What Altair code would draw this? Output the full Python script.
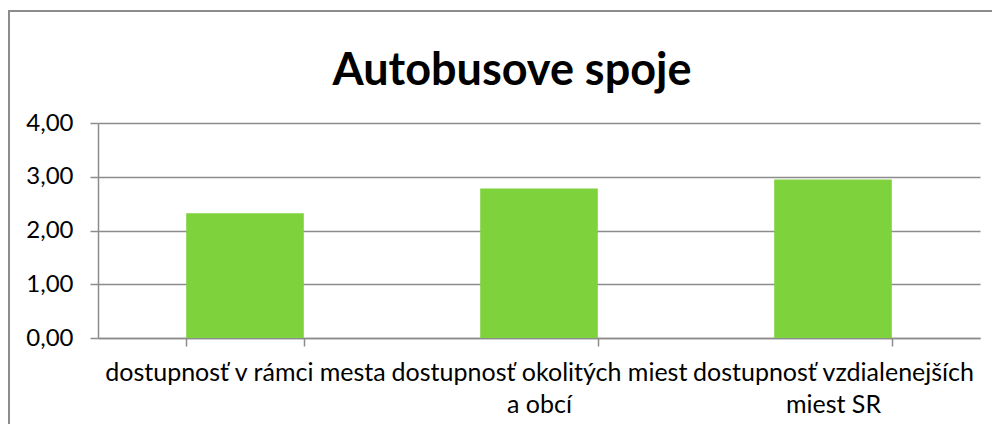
import altair as alt
import pandas as pd

chart_title = "Autobusove spoje"
categories = [
    "dostupnosť v rámci mesta",
    "dostupnosť okolitých miest|a obcí",
    "dostupnosť vzdialenejších|miest SR",
]
values = [2.32, 2.78, 2.95]
y_ticks = [0, 1, 2, 3, 4]

df = pd.DataFrame({"cat": categories, "val": values})

FONT = "Lato"
GRID = "#8c8c8c"

bars = alt.Chart(df).mark_bar(color="#7ED23C").encode(
    x=alt.X(
        "cat:N",
        sort=categories,
        scale=alt.Scale(paddingInner=0.6, paddingOuter=0.3),
        axis=alt.Axis(
            title=None,
            labelAngle=0,
            labelExpr="split(datum.label, '|')",
            labelFont=FONT,
            labelFontSize=25,
            labelLimit=0,
            labelColor="#000000",
            labelLineHeight=32,
            labelPadding=34,
            labelBaseline="alphabetic",
            labelOverlap=False,
            tickBand="extent",
            tickSize=8,
            tickColor=GRID,
            tickWidth=1.5,
            domainColor=GRID,
            domainWidth=1.5,
            grid=False,
        ),
    ),
    y=alt.Y(
        "val:Q",
        scale=alt.Scale(domain=[0, 4]),
        axis=alt.Axis(
            title=None,
            values=y_ticks,
            labelExpr="replace(format(datum.value, '.2f'), '.', ',')",
            labelFont=FONT,
            labelFontSize=24,
            labelColor="#000000",
            labelPadding=17,
            tickSize=8,
            tickColor=GRID,
            tickWidth=1.5,
            domainColor=GRID,
            domainWidth=1.5,
            grid=True,
            gridColor=GRID,
            gridWidth=1.5,
        ),
    ),
)

frame = alt.Chart(alt.Data(values=[{"a": 1}])).mark_rect(
    fill=None, stroke="#8c8c8c", strokeWidth=2
).encode(
    x=alt.value(-89),
    x2=alt.value(925),
    y=alt.value(-112),
    y2=alt.value(330),
)

title = alt.Chart(alt.Data(values=[{"t": chart_title}])).mark_text(
    font=FONT, fontSize=45, fontWeight="bold", color="#000000",
    align="center", baseline="alphabetic",
).encode(
    text="t:N",
    x=alt.value(414),
    y=alt.value(-38),
)

chart = alt.layer(frame, bars, title).properties(
    width=882,
    height=215,
    autosize=alt.AutoSizeParams(type="none"),
    padding={"left": 90, "top": 115, "right": 12, "bottom": 86},
).configure_view(stroke=None)

chart.save("out.html", embed_options={"renderer": "svg", "actions": False})
